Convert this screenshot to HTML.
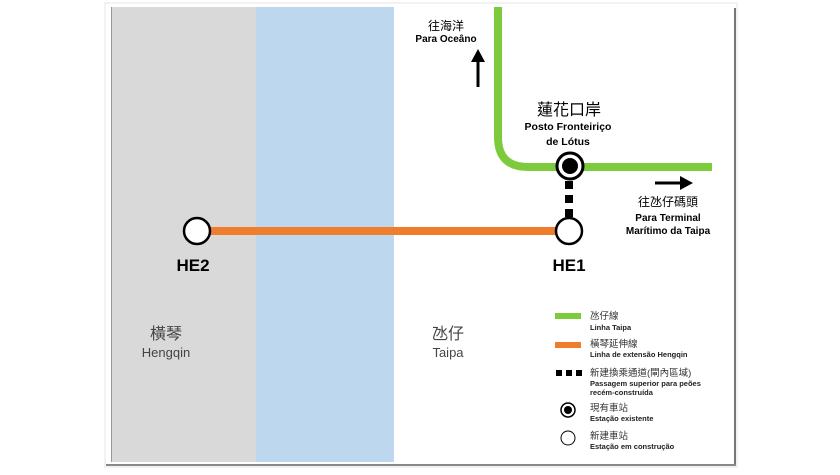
<!DOCTYPE html>
<html><head><meta charset="utf-8"><style>
body{margin:0;width:840px;height:470px;background:#fff;overflow:hidden;font-family:"Liberation Sans","Noto Sans CJK TC",sans-serif}
</style></head><body>
<svg width="840" height="470" xmlns="http://www.w3.org/2000/svg" font-family="Liberation Sans, Noto Sans CJK TC, sans-serif">
<rect x="105" y="3" width="632" height="464" fill="#fff" stroke="#e4e4e4"/>
<line x1="735" y1="8" x2="735" y2="465" stroke="#777" stroke-width="2"/>
<line x1="106" y1="465" x2="736" y2="465" stroke="#888" stroke-width="2"/>
<rect x="111" y="7" width="145" height="455" fill="#d9d9d9"/>
<line x1="111.5" y1="7" x2="111.5" y2="462" stroke="#999"/>
<rect x="256" y="7" width="138" height="455" fill="#bdd7ee"/>
<path d="M498 7 V137 Q498 167 528 167 H712" fill="none" stroke="#7ccb3c" stroke-width="8"/>
<line x1="197" y1="231" x2="569" y2="231" stroke="#ef7d2e" stroke-width="8"/>
<g fill="#000"><rect x="565" y="181" width="8" height="8"/><rect x="565" y="195" width="8" height="8"/><rect x="565" y="209" width="8" height="8"/></g>
<circle cx="197" cy="231" r="13" fill="#fff" stroke="#000" stroke-width="2.5"/>
<circle cx="569" cy="231" r="13" fill="#fff" stroke="#000" stroke-width="2.5"/>
<circle cx="570" cy="166" r="13" fill="#fff" stroke="#000" stroke-width="3"/>
<circle cx="570" cy="166" r="8" fill="#000"/>
<text x="193" y="271" font-size="17" font-weight="bold" text-anchor="middle">HE2</text>
<text x="569" y="271" font-size="17" font-weight="bold" text-anchor="middle">HE1</text>
<text x="166" y="339" font-size="16" fill="#444" text-anchor="middle">橫琴</text>
<text x="166" y="357" font-size="13" fill="#444" text-anchor="middle">Hengqin</text>
<text x="448" y="339" font-size="16" fill="#444" text-anchor="middle">氹仔</text>
<text x="448" y="357" font-size="13" fill="#444" text-anchor="middle">Taipa</text>
<text x="446" y="30" font-size="12" text-anchor="middle">往海洋</text>
<text x="446" y="42" font-size="10" font-weight="bold" text-anchor="middle">Para Oceâno</text>
<line x1="478" y1="87" x2="478" y2="60" stroke="#000" stroke-width="3"/>
<path d="M471 62 L478 49 L485 62 Z" fill="#000"/>
<text x="569" y="115" font-size="16" text-anchor="middle">蓮花口岸</text>
<text x="568" y="130" font-size="10.5" font-weight="bold" text-anchor="middle">Posto Fronteiriço</text>
<text x="568" y="145" font-size="10.5" font-weight="bold" text-anchor="middle">de Lótus</text>
<line x1="655" y1="183" x2="682" y2="183" stroke="#000" stroke-width="3"/>
<path d="M680 176 L693 183 L680 190 Z" fill="#000"/>
<text x="668" y="206" font-size="12" text-anchor="middle">往氹仔碼頭</text>
<text x="668" y="221" font-size="10" font-weight="bold" text-anchor="middle">Para Terminal</text>
<text x="668" y="234" font-size="10" font-weight="bold" text-anchor="middle">Marítimo da Taipa</text>
<rect x="555" y="313" width="26" height="6" fill="#7ccb3c"/>
<rect x="555" y="342" width="26" height="6" fill="#ef7d2e"/>
<g fill="#000"><rect x="556" y="370" width="6" height="6"/><rect x="566" y="370" width="6" height="6"/><rect x="576" y="370" width="6" height="6"/></g>
<circle cx="568" cy="410" r="7" fill="#fff" stroke="#000" stroke-width="1.5"/>
<circle cx="568" cy="410" r="4" fill="#000"/>
<circle cx="568" cy="438" r="7" fill="#fff" stroke="#000" stroke-width="1"/>
<g font-size="9.5" fill="#333">
<text x="590" y="319">氹仔線</text>
<text x="590" y="347">橫琴延伸線</text>
<text x="590" y="376">新建換乘通道(閘內區域)</text>
<text x="590" y="411">現有車站</text>
<text x="590" y="439">新建車站</text>
</g>
<g font-size="7.5" font-weight="bold" fill="#222">
<text x="590" y="330">Linha Taipa</text>
<text x="590" y="357">Linha de extensão Hengqin</text>
<text x="590" y="386">Passagem superior para peões</text>
<text x="590" y="395">recém-construída</text>
<text x="590" y="421">Estação existente</text>
<text x="590" y="449">Estação em construção</text>
</g>
</svg>
</body></html>
